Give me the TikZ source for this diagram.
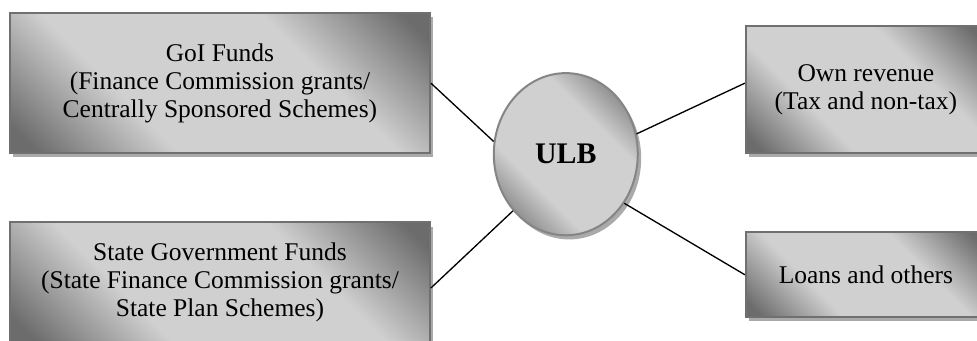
\documentclass[tikz,border=0pt]{standalone}
\usepackage{fontspec}
\setmainfont{Liberation Serif}
\usetikzlibrary{positioning, shapes.geometric, shadows}
\definecolor{fundsdark}{RGB}{108,108,108}
\definecolor{fundslight}{RGB}{208,208,208}
\definecolor{fundsline}{RGB}{112,112,112}
\definecolor{shadowgray}{RGB}{170,170,170}
\pgfdeclareverticalshading{fundshade}{100bp}{color(0bp)=(fundsdark); color(18bp)=(fundsdark);
    color(36bp)=(fundslight); color(64bp)=(fundslight); color(82bp)=(fundsdark); color(100bp)=(fundsdark)}

\begin{document}
\begin{tikzpicture}[
    fundbox/.style={draw=fundsline, line width=1.5pt, rectangle, align=center, inner sep=0pt,
        font=\fontsize{19.2}{21}\selectfont,
        shading=fundshade, shading angle=-45,
        drop shadow={shadow xshift=0.09cm, shadow yshift=-0.11cm, fill=shadowgray, opacity=1}},
    ulbnode/.style={fundbox, ellipse, draw=fundsline!85, font=\fontsize{22.5}{26}\selectfont\bfseries},
    link/.style={line width=1pt, black}
]
    \useasboundingbox (0,0) rectangle (25.85,9.0);

    % === Sources on the left ===
    \node[fundbox, minimum width=11.11cm, minimum height=3.70cm] (goi) at (5.82,6.80)
        {GoI Funds\\(Finance Commission grants/\\Centrally Sponsored Schemes)};
    \node[fundbox, minimum width=11.11cm, minimum height=3.17cm] (state) at (5.82,1.53)
        {State Government Funds\\(State Finance Commission grants/\\State Plan Schemes)};

    % ULB
    \node[ulbnode, minimum width=3.81cm, minimum height=4.29cm] (ulb) at (14.97,4.92) {ULB};

    % === Sources on the right ===
    \node[fundbox, minimum width=6.35cm, minimum height=3.36cm] (own) at (22.91,6.63)
        {Own revenue\\(Tax and non-tax)};
    \node[fundbox, minimum width=6.35cm, minimum height=2.25cm] (loans) at (22.91,1.73)
        {Loans and others};

    % Links
    \draw[link] (goi.east) -- (ulb.170);
    \draw[link] ([yshift=-0.15cm]state.east) -- (ulb.227);
    \draw[link] (ulb.16) -- ([yshift=0.17cm]own.west);
    \draw[link] (ulb.320) -- (loans.west);
\end{tikzpicture}
\end{document}
